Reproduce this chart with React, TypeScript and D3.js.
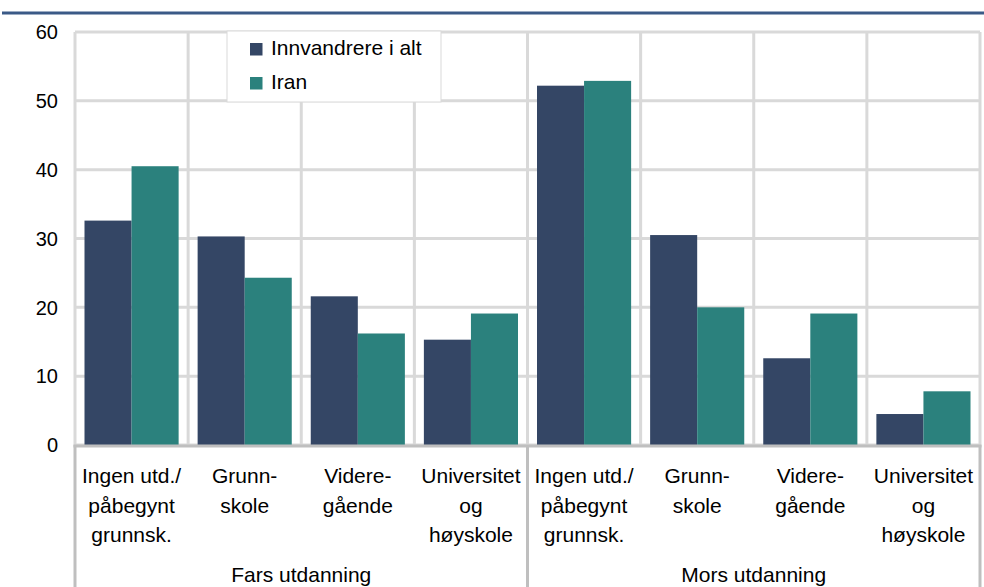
import React from "react";
import { scaleLinear, scaleBand } from "d3";

const categories = ["Ingen", "Grunnskole", "Videregaende", "Universitet"];
const categoryLines = [
  ["Ingen utd./", "påbegynt", "grunnsk."],
  ["Grunn-", "skole"],
  ["Videre-", "gående"],
  ["Universitet", "og", "høyskole"],
];
const groups = ["Fars utdanning", "Mors utdanning"];
const seriesNames = ["Innvandrere i alt", "Iran"];
const innvandrereFar = [32.6, 30.3, 21.6, 15.3];
const iranFar = [40.5, 24.3, 16.2, 19.1];
const innvandrereMor = [52.2, 30.5, 12.6, 4.5];
const iranMor = [52.9, 20.0, 19.1, 7.8];
const yTicks = [0, 10, 20, 30, 40, 50, 60];

const colors = ["#344665", "#2b817d"];
const font = "'Liberation Sans', Arial, sans-serif";

const App = () => {
  const width = 984;
  const height = 587;
  const left = 75;
  const right = 980;
  const top = 32;
  const bottom = 445;

  const slots = groups.flatMap((g) => categories.map((c) => `${g}|${c}`));
  const values = [
    [...innvandrereFar, ...innvandrereMor],
    [...iranFar, ...iranMor],
  ];

  const x = scaleBand().domain(slots).range([left, right]).paddingInner(0).paddingOuter(0);
  const inner = scaleBand().domain(seriesNames).range([9.5, x.bandwidth() - 9.5]);
  const y = scaleLinear().domain([0, 60]).range([bottom, top]);

  const gridH = yTicks.map((t) => (
    <line key={t} x1={left} x2={right} y1={y(t)} y2={y(t)} stroke="#d9d9d9" strokeWidth={3} />
  ));

  const gridV = [...slots.map((s) => x(s)), right].map((xv, i) => (
    <line key={i} x1={xv} x2={xv} y1={top} y2={bottom} stroke="#d9d9d9" strokeWidth={3} />
  ));

  const bars = seriesNames.map((name, si) =>
    slots.map((s, i) => (
      <rect
        key={name + s}
        x={x(s) + inner(name)}
        y={y(values[si][i])}
        width={inner.bandwidth()}
        height={y(0) - y(values[si][i])}
        fill={colors[si]}
      />
    ))
  );

  const yLabels = yTicks.map((t) => (
    <text key={t} x={58} y={y(t)} dy="0.36em" textAnchor="end" fontSize={20} fontFamily={font} fill="#000">
      {t}
    </text>
  ));

  const catLabels = slots.map((s, i) => {
    const lines = categoryLines[i % categories.length];
    return (
      <text key={s} textAnchor="middle" fontSize={21} fontFamily={font} fill="#000">
        {lines.map((l, j) => (
          <tspan key={j} x={x(s) + x.bandwidth() / 2} y={483 + j * 29.5}>
            {l}
          </tspan>
        ))}
      </text>
    );
  });

  const groupWidth = x.bandwidth() * categories.length;
  const groupLabels = groups.map((g, i) => (
    <text
      key={g}
      x={left + groupWidth * i + groupWidth / 2}
      y={581.5}
      textAnchor="middle"
      fontSize={21}
      fontFamily={font}
      fill="#000"
    >
      {g}
    </text>
  ));

  const separators = [left, left + groupWidth, right].map((xv, i) => (
    <line key={i} x1={xv} x2={xv} y1={bottom} y2={height} stroke="#bfbfbf" strokeWidth={3} />
  ));

  return (
    <svg
      width={width}
      height={height}
      viewBox={`0 0 ${width} ${height}`}
      style={{ position: "absolute", left: 0, top: 0, background: "#fff" }}
    >
      <line x1={2} x2={width} y1={13} y2={13} stroke="#3b5a87" strokeWidth={3} />
      {gridH}
      {gridV}
      {bars}
      <line x1={left - 1.5} x2={right + 1.5} y1={bottom + 1} y2={bottom + 1} stroke="#bfbfbf" strokeWidth={3} />
      {separators}
      {yLabels}
      {catLabels}
      {groupLabels}
      <rect x={227} y={31} width={214} height={71} fill="#fff" stroke="#d9d9d9" strokeWidth={1} />
      {seriesNames.map((n, i) => (
        <g key={n}>
          <rect x={250} y={43 + i * 34} width={12.5} height={12.5} fill={colors[i]} />
          <text x={271} y={55 + i * 34} fontSize={21} fontFamily={font} fill="#000">
            {n}
          </text>
        </g>
      ))}
    </svg>
  );
};

export default App;
